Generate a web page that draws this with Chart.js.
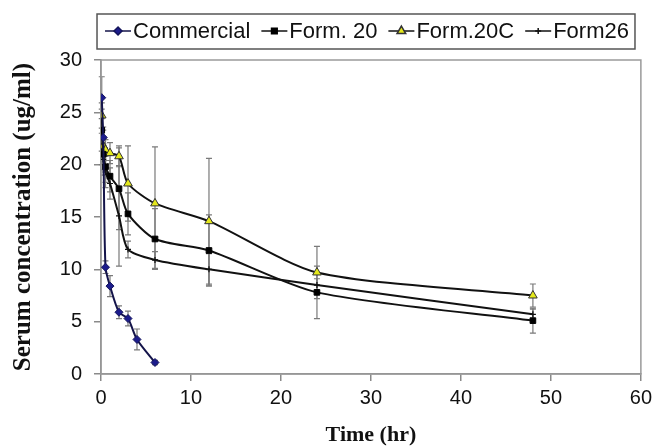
<!DOCTYPE html>
<html>
<head>
<meta charset="utf-8">
<script src="https://cdn.jsdelivr.net/npm/chart.js@4/dist/chart.umd.min.js"></script>
<style>
  html, body { margin: 0; padding: 0; background: #fff; }
  #wrap { width: 657px; height: 446px; }
</style>
</head>
<body>
<div id="wrap"><canvas id="pk-chart" width="657" height="446"></canvas></div>
<script>
// sampling times (hr)
const commTime = [0.083, 0.25, 0.5, 1, 2, 3, 4, 6];
const formTime = [0.083, 0.25, 0.5, 1, 2, 3, 6, 12, 24, 48];

// serum concentration (ug/ml) and SD
const commConc = [26.4, 22.6, 10.2, 8.4, 5.9, 5.3, 3.3, 1.1];
const commErr = [2.0, 1.0, 0.6, 1.0, 0.6, 0.7, 1.0, 0.2];
const form20 = [23.3, 21.0, 19.8, 18.9, 17.7, 15.3, 12.9, 11.8, 7.8, 5.1];
const form20Err = [2.0, 1.5, 1.5, 1.5, 3.9, 2.0, 2.9, 3.4, 2.5, 1.2];
const form20C = [24.7, 21.8, 21.4, 21.1, 20.8, 18.2, 16.3, 14.6, 9.7, 7.5];
const form20CErr = [1.2, 1.5, 1.0, 1.0, 1.0, 3.6, 5.4, 6.0, 2.5, 1.1];
const form26 = [21.5, 20.5, 19.3, 18.2, 15.1, 11.9, 10.9, 10.0, 8.5, 5.7];
const form26Err = [1.5, 1.5, 1.5, 1.5, 4.8, 0.8, 0.8, 1.5, 0.6, 0.5];

const seriesNames = ['Commercial', 'Form. 20', 'Form.20C', 'Form26'];
const xTicks = [0, 10, 20, 30, 40, 50, 60];
const yTicks = [0, 5, 10, 15, 20, 25, 30];

function toPoints(times, vals) {
    return times.map((t, i) => ({ x: t, y: vals[i] }));
}

const errors = [commErr, form20Err, form20CErr, form26Err];

// gray SD bars with caps, drawn under the lines
const errorBars = {
    id: 'errorBars',
    beforeDatasetsDraw(chart) {
        const ctx = chart.ctx;
        const yScale = chart.scales.y;
        ctx.save();
        ctx.strokeStyle = '#7a7a7a';
        ctx.lineWidth = 1.2;
        chart.data.datasets.forEach((ds, di) => {
            const meta = chart.getDatasetMeta(di);
            meta.data.forEach((pt, i) => {
                const v = ds.data[i].y;
                const e = errors[di][i];
                const top = yScale.getPixelForValue(v + e);
                const bot = yScale.getPixelForValue(v - e);
                ctx.beginPath();
                ctx.moveTo(pt.x, top);
                ctx.lineTo(pt.x, bot);
                ctx.moveTo(pt.x - 3, top);
                ctx.lineTo(pt.x + 3, top);
                ctx.moveTo(pt.x - 3, bot);
                ctx.lineTo(pt.x + 3, bot);
                ctx.stroke();
            });
        });
        ctx.restore();
    }
};

// gray frame round the plot area
const plotFrame = {
    id: 'plotFrame',
    beforeDatasetsDraw(chart) {
        const { ctx, chartArea: a } = chart;
        ctx.save();
        ctx.strokeStyle = '#9a9a9a';
        ctx.lineWidth = 1.5;
        ctx.strokeRect(a.left, a.top, a.right - a.left, a.bottom - a.top);
        ctx.restore();
    }
};

// boxed legend with line + marker samples
const boxLegend = {
    id: 'boxLegend',
    afterDraw(chart) {
        const ctx = chart.ctx;
        const font = '22px "Liberation Sans", Arial, sans-serif';
        ctx.save();
        ctx.font = font;
        const sample = 26, gap = 2, spacing = 11;
        const n = chart.data.datasets.length;
        const widths = chart.data.datasets.map(ds => ctx.measureText(ds.label).width);
        const total = widths.reduce((a, b) => a + b, 0) + n * (sample + gap) + spacing * (n - 1);
        const cx = 367, cy = 31;
        let x = cx - total / 2;
        ctx.strokeStyle = '#555';
        ctx.lineWidth = 1.5;
        ctx.strokeRect(x - 8, 14, total + 14, 35);
        ctx.textBaseline = 'middle';
        chart.data.datasets.forEach((ds, i) => {
            ctx.beginPath();
            ctx.strokeStyle = ds.borderColor;
            ctx.lineWidth = 1.5;
            ctx.moveTo(x, cy);
            ctx.lineTo(x + sample, cy);
            ctx.stroke();
            ctx.fillStyle = ds.pointBackgroundColor;
            ctx.strokeStyle = ds.pointBorderColor;
            Chart.helpers.drawPoint(ctx, {
                pointStyle: ds.pointStyle, radius: ds.pointRadius, rotation: 0,
                borderWidth: ds.pointBorderWidth
            }, x + sample / 2, cy);
            x += sample + gap;
            ctx.fillStyle = '#111';
            ctx.fillText(ds.label, x, cy + 1);
            x += widths[i] + spacing;
        });
        ctx.restore();
    }
};

const ctx = document.getElementById('pk-chart').getContext('2d');

new Chart(ctx, {
    type: 'line',
    data: {
        datasets: [
            {
                label: seriesNames[0],
                data: toPoints(commTime, commConc),
                borderColor: '#14144a',
                pointBackgroundColor: '#1c1c8c',
                pointBorderColor: '#14145a',
                pointStyle: 'rectRot',
                pointRadius: 4,
                pointBorderWidth: 1
            },
            {
                label: seriesNames[1],
                data: toPoints(formTime, form20),
                borderColor: '#111',
                pointBackgroundColor: '#000',
                pointBorderColor: '#000',
                pointStyle: 'rect',
                pointRadius: 4,
                pointBorderWidth: 1
            },
            {
                label: seriesNames[2],
                data: toPoints(formTime, form20C),
                borderColor: '#111',
                pointBackgroundColor: '#e4e81c',
                pointBorderColor: '#333',
                pointStyle: 'triangle',
                pointRadius: 5,
                pointBorderWidth: 1
            },
            {
                label: seriesNames[3],
                data: toPoints(formTime, form26),
                borderColor: '#111',
                pointBackgroundColor: '#111',
                pointBorderColor: '#111',
                pointStyle: 'cross',
                pointRadius: 3,
                pointBorderWidth: 1.2
            }
        ]
    },
    options: {
        responsive: false,
        animation: false,
        devicePixelRatio: 1,
        layout: { padding: { top: 60, right: 15, left: 0, bottom: 0 } },
        elements: {
            line: { borderWidth: 2, tension: 0.25, fill: false }
        },
        plugins: {
            legend: { display: false },
            tooltip: { enabled: false }
        },
        scales: {
            x: {
                type: 'linear',
                min: 0,
                max: 60,
                afterBuildTicks: s => { s.ticks = xTicks.map(v => ({ value: v })); },
                afterFit: s => { s.height = 72; },
                grid: { display: true, drawOnChartArea: false, drawTicks: true, tickLength: 7, color: '#8a8a8a', lineWidth: 1.5 },
                border: { display: true, color: '#8a8a8a', width: 1.5 },
                ticks: { color: '#111', padding: 5, font: { family: '"Liberation Sans", Arial, sans-serif', size: 20 } },
                title: {
                    display: true,
                    text: 'Time (hr)',
                    color: '#111',
                    padding: { top: 0, bottom: 0 },
                    font: { family: '"Liberation Serif", "Times New Roman", serif', size: 22, weight: 'bold', lineHeight: 1 }
                }
            },
            y: {
                min: 0,
                max: 30,
                afterBuildTicks: s => { s.ticks = yTicks.map(v => ({ value: v })); },
                afterFit: s => { s.width = 101; },
                grid: { display: true, drawOnChartArea: false, drawTicks: true, tickLength: 7, color: '#8a8a8a', lineWidth: 1.5 },
                border: { display: true, color: '#8a8a8a', width: 1.5 },
                ticks: { color: '#111', padding: 12, font: { family: '"Liberation Sans", Arial, sans-serif', size: 20 } },
                title: {
                    display: true,
                    text: 'Serum concentration (ug/ml)',
                    color: '#111',
                    padding: { top: 10, bottom: 0 },
                    font: { family: '"Liberation Serif", "Times New Roman", serif', size: 25, weight: 'bold', lineHeight: 1.1 }
                }
            }
        }
    },
    plugins: [errorBars, plotFrame, boxLegend]
});
</script>
</body>
</html>
